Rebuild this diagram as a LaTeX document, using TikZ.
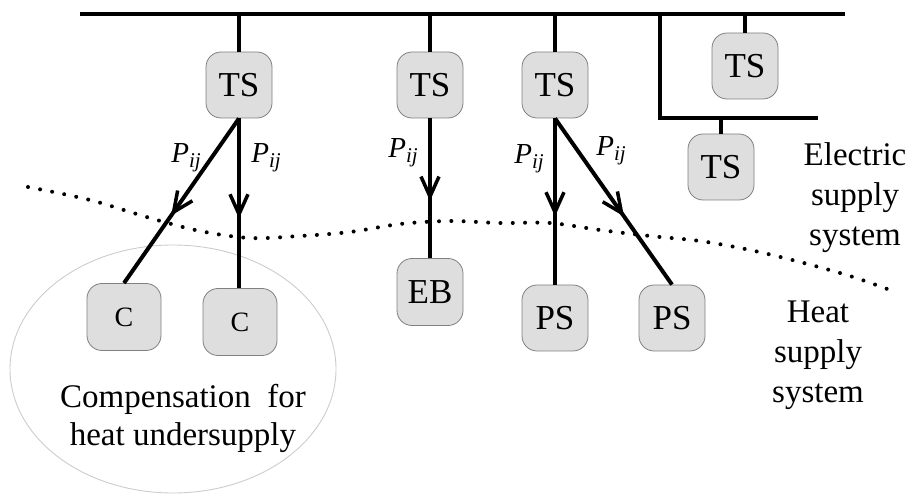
\documentclass[tikz,border=0pt]{standalone}
\usepackage{fontspec}
\setmainfont{Liberation Serif}
\usetikzlibrary{arrows.meta,decorations.markings}
\newcommand{\Pij}{{\itshape P}\raisebox{-5pt}{\fontsize{21}{21}\selectfont\itshape ij}}
\begin{document}
\begin{tikzpicture}[x=1pt,y=-1pt,
  box/.style={draw=black!50, line width=0.8pt, fill=black!13, rounded corners=15pt,
    minimum width=66pt, minimum height=66pt, inner sep=0pt, font=\fontsize{35}{35}\selectfont},
  cbox/.style={box, minimum width=74pt, minimum height=67pt, font=\fontsize{28}{28}\selectfont},
  wire/.style={line width=4pt},
  flow/.style={wire, postaction={decorate}, decoration={markings,
    mark=at position 0.59 with {\arrow{Straight Barb[length=20pt,width=18pt,line width=3.5pt]}}}},
  lbl/.style={inner sep=0pt, font=\fontsize{29}{29}\selectfont},
  txt/.style={align=center, inner sep=0pt, font=\fontsize{33}{40}\selectfont},
  ]
\useasboundingbox (0,0) rectangle (911,494);

% compensation area
\draw[black!20, line width=0.9pt] (173,369) ellipse [x radius=163pt, y radius=124pt];

% boundary between systems
\draw[line width=4pt, line cap=round, dash pattern=on 0pt off 12.3pt]
  plot[smooth, tension=0.55] coordinates {(28,187) (90,200) (150,218) (200,231) (250,238) (300,236)
  (350,232) (400,224) (450,221) (500,223) (550,223) (600,230) (650,236) (700,241) (750,250)
  (800,262) (850,276) (890,290)};

% bus
\coordinate (busL) at (80,14);
\coordinate (busR) at (845,14);
\coordinate (brT) at (660,14);
\coordinate (brC) at (660,118);
\coordinate (brR) at (818,118);
\draw[wire] (busL) -- (busR);
\draw[wire] (brT) -- (brC) -- (brR);

% nodes
\node[box] (ts1) at (239,85) {TS};
\node[box] (ts2) at (430,85) {TS};
\node[box] (ts3) at (555,85) {TS};
\node[box] (ts4) at (745,66) {TS};
\node[box] (ts5) at (721,167) {TS};
\node[cbox] (c1) at (124,317) {C};
\node[cbox] (c2) at (240,322) {C};
\node[box, minimum height=67pt] (eb) at (430,292) {EB};
\node[box] (ps1) at (555,318) {PS};
\node[box] (ps2) at (672,318) {PS};

% taps from the bus
\draw[wire] (ts1.north) -- (ts1.north |- busL);
\draw[wire] (ts2.north) -- (ts2.north |- busL);
\draw[wire] (ts3.north) -- (ts3.north |- busL);
\draw[wire] (ts4.north) -- (ts4.north |- busL);
\draw[wire] (ts5.north) -- (ts5.north |- brC);

% flows
\draw[flow] (ts1.south) -- (c1.north);
\draw[flow] (ts1.south) -- (ts1.south |- c2.north);
\draw[flow] (ts2.south) -- (eb.north);
\draw[flow] (ts3.south) -- (ps1.north);
\draw[flow] (ts3.south) -- (ps2.north);

% labels
\node[lbl] (p1) at (186,158) {\Pij};
\node[lbl] (p2) at (266,158) {\Pij};
\node[lbl] (p3) at (403,153) {\Pij};
\node[lbl] (p4) at (529,159) {\Pij};
\node[lbl] (p5) at (611,151) {\Pij};

% texts
\node[txt] (elec) at (855,198) {Electric\\supply\\system};
\node[txt] (heat) at (818,355) {Heat\\supply\\system};
\node[txt, font=\fontsize{33}{38}\selectfont] (comp) at (183,418) {Compensation~ for\\heat undersupply};
\end{tikzpicture}
\end{document}
